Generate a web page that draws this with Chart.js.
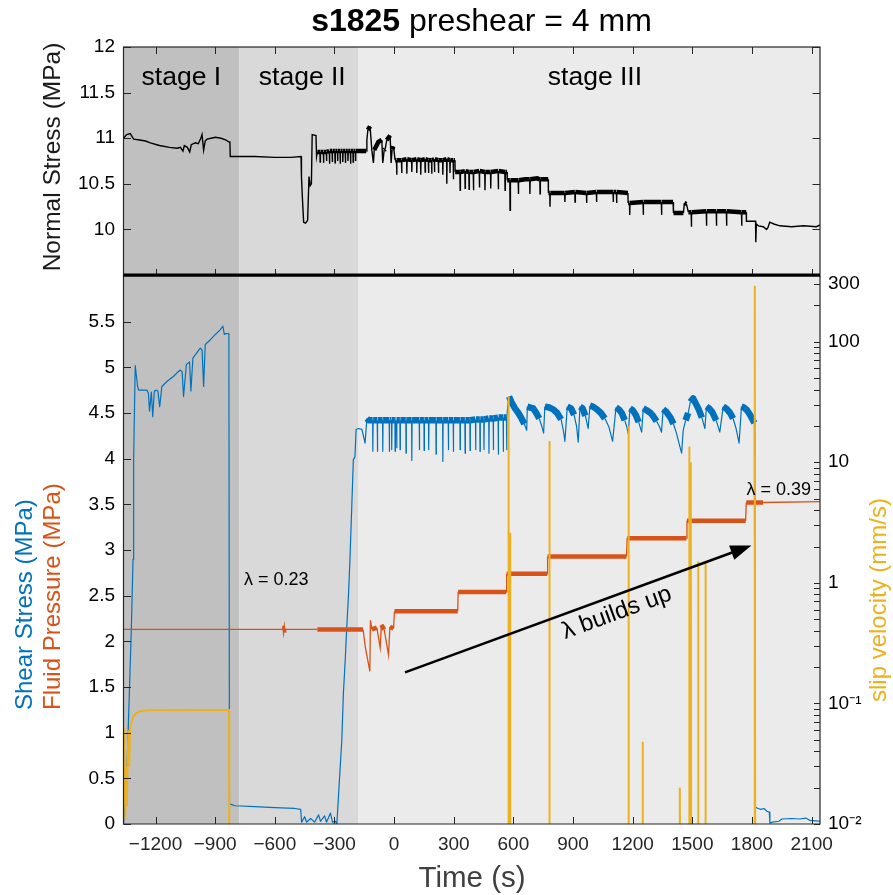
<!DOCTYPE html>
<html>
<head>
<meta charset="utf-8">
<script src="https://cdn.jsdelivr.net/npm/chart.js@4.4.0/dist/chart.umd.min.js"></script>
<style>
  html, body { margin: 0; padding: 0; background: #fff; }
  #wrap { position: relative; width: 893px; height: 895px; }
  canvas { position: absolute; left: 0; top: 0; }
</style>
</head>
<body>
<div id="wrap">
  <canvas id="bottomChart" width="893" height="895"></canvas>
  <canvas id="topChart" width="893" height="895"></canvas>
</div>
<script>
const FONT = "'Liberation Sans', Arial, Helvetica, sans-serif";
Chart.defaults.font.family = FONT;
Chart.defaults.color = '#262626';

// axis ranges / ticks
const T_MIN = -1361, T_MAX = 2142;
const timeTicks = [-1200, -900, -600, -300, 0, 300, 600, 900, 1200, 1500, 1800, 2100];
const normalTicks = [10, 10.5, 11, 11.5, 12];
const stressTicks = [0, 0.5, 1, 1.5, 2, 2.5, 3, 3.5, 4, 4.5, 5, 5.5];
const slipDecades = [0.01, 0.1, 1, 10, 100];
const slipLabelValues = [0.01, 0.1, 1, 10, 100, 300];
const slipLabelText = ['10\u207B\u00B2', '10\u207B\u00B9', '1', '10', '100', '300'];

// stages
const stageNames = ['stage I', 'stage II', 'stage III'];
const stageStarts = [T_MIN, -779, -179];
const stageEnds = [-779, -179, T_MAX];
const stageLabelTimes = [-1070, -462, 1010];

// normal stress (MPa) vs time (s)
const normalStress = [
  [-1361,11.00],[-1345,11.04],[-1327,11.05],[-1310,10.99],[-1280,10.98],[-1250,10.97],[-1226,10.95],[-1180,10.92],
  [-1130,10.90],[-1092,10.89],[-1075,10.90],[-1062,10.86],[-1055,10.92],[-1040,10.90],[-1028,10.85],[-1020,10.93],
  [-1000,10.95],[-985,10.94],[-972,11.00],[-966,11.04],[-958,10.87],[-950,10.97],[-941,10.99],[-920,11.00],
  [-899,11.01],[-870,11.00],[-845,10.98],[-833,10.96],[-826,10.96],[-824,10.80],
  [-700,10.80],[-600,10.79],[-520,10.79],[-468,10.80],
  [-466,10.58],[-462,10.38],[-455,10.08],[-445,10.07],[-435,10.10],[-428,10.58],[-422,10.48],[-416,10.50],
  [-412,11.04],[-393,11.03],[-390,10.80],[-386,10.85],
  [-373,10.85],[-372,10.74],[-370.5,10.85],[-356,10.85],[-355,10.73],[-353.5,10.85],[-341,10.85],[-340,10.75],[-338.5,10.85],
  [-326,10.86],[-325,10.72],[-323.5,10.86],[-312,10.86],[-311,10.74],[-309.5,10.86],[-298,10.86],[-297,10.73],[-295.5,10.86],
  [-285,10.86],[-284,10.75],[-282.5,10.86],[-272,10.86],[-271,10.72],[-269.5,10.86],[-259,10.86],[-258,10.74],[-256.5,10.86],
  [-246,10.86],[-245,10.73],[-243.5,10.86],[-233,10.86],[-232,10.75],[-230.5,10.86],[-220,10.86],[-219,10.72],[-217.5,10.86],
  [-207,10.86],[-206,10.74],[-204.5,10.86],[-195,10.86],[-194,10.75],[-192.5,10.86],
  [-140,10.86],[-137,10.98],[-132,11.09],[-121,11.13],[-112,10.87],[-104,10.73],[-100,10.87],[-79,10.96],
  [-62,10.98],[-57,10.73],[-50,10.87],[-45,10.88],[-37,10.98],[-20,11.03],[-15,10.73],[-10,10.88],[-3,10.91],[5,10.76],
  [12,10.76],[13,10.60],[14.5,10.76],[37,10.76],[38,10.62],[39.5,10.76],[63,10.77],[64,10.61],[65.5,10.77],
  [88,10.76],[89,10.63],[90.5,10.76],[113,10.77],[114,10.62],[115.5,10.77],[133,10.76],[134,10.60],[135.5,10.76],
  [155,10.77],[156,10.63],[157.5,10.77],[172,10.76],[173,10.62],[174.5,10.76],[188,10.76],[189,10.61],[190.5,10.76],
  [202,10.77],[203,10.63],[204.5,10.77],[222,10.76],[223,10.62],[224.5,10.76],[244,10.76],[245,10.60],[246.5,10.76],
  [264,10.77],[265,10.50],[266.5,10.77],[280,10.76],[281,10.62],[282.5,10.76],[297,10.76],[298,10.55],[299.5,10.76],
  [306,10.76],[307,10.63],
  [331,10.63],[332,10.43],[333.5,10.63],[356,10.64],[357,10.45],[358.5,10.64],[376,10.63],[377,10.44],[378.5,10.63],
  [398,10.63],[399,10.43],[400.5,10.63],[428,10.64],[429,10.46],[430.5,10.64],[456,10.63],[457,10.43],[458.5,10.63],
  [485,10.63],[486,10.45],[487.5,10.63],[523,10.64],[524,10.44],[525.5,10.64],[557,10.63],[558,10.43],[559.5,10.63],
  [568,10.63],[569,10.54],[582,10.54],[583,10.21],[585,10.54],[624,10.54],[625,10.39],[626.5,10.54],
  [660,10.55],[682,10.55],[683,10.39],[684.5,10.55],[720,10.56],[733,10.55],[734,10.39],[735.5,10.55],
  [775,10.55],[776,10.40],
  [783,10.40],[784,10.25],[785.5,10.40],[858,10.40],[859,10.30],[860.5,10.40],[909,10.41],[910,10.30],[911.5,10.41],
  [967,10.40],[968,10.29],[969.5,10.40],[1017,10.41],[1018,10.30],[1019.5,10.41],[1101,10.41],[1102,10.30],[1103.5,10.41],
  [1118,10.41],[1119,10.29],[1120.5,10.41],[1176,10.40],[1177,10.29],
  [1184,10.29],[1185,10.16],[1186.5,10.29],[1252,10.30],[1253,10.16],[1254.5,10.30],[1344,10.30],[1345,10.16],[1346.5,10.30],
  [1403,10.30],[1405,10.18],[1455,10.18],[1460,10.29],[1470,10.28],[1480,10.19],
  [1494,10.19],[1495,10.03],[1496.5,10.19],[1570,10.20],[1571,10.04],[1572.5,10.20],[1620,10.20],[1621,10.04],[1622.5,10.20],
  [1671,10.20],[1672,10.04],[1673.5,10.20],[1747,10.19],[1748,10.04],[1749.5,10.19],[1771,10.19],[1772,10.09],
  [1818,10.09],[1819,9.86],[1822,10.06],[1832,10.04],[1857,10.03],[1873,10.00],[1880,10.02],[1889,10.08],
  [1910,10.06],[1940,10.04],[2000,10.03],[2060,10.04],[2124,10.03],[2142,10.05]
];

// shear stress (MPa) vs time (s)
const shearStress = [
  [-1361,0.00],[-1345,0.50],[-1335,1.20],[-1322,2.10],[-1313,2.90],[-1310,4.00],[-1302,5.02],[-1290,4.79],
  [-1285,4.75],[-1243,4.75],[-1236,4.72],[-1230,4.52],[-1221,4.73],[-1214,4.46],[-1206,4.74],[-1196,4.75],
  [-1188,4.74],[-1179,4.57],[-1168,4.79],[-1140,4.85],[-1110,4.90],[-1092,4.94],[-1075,4.97],[-1066,4.95],
  [-1059,4.68],[-1045,5.03],[-1029,5.06],[-1022,4.74],[-1012,5.10],[-975,5.21],[-966,5.19],[-958,4.79],
  [-950,5.25],[-925,5.30],[-899,5.36],[-875,5.41],[-861,5.45],[-854,5.36],[-848,5.37],[-831,5.37],
  [-828,0.22],[-800,0.20],[-700,0.19],[-600,0.18],[-500,0.17],[-470,0.16],[-465,0.02],[-450,0.08],
  [-440,0.02],[-420,0.06],[-400,0.02],[-380,0.10],[-370,0.03],[-350,0.09],[-340,0.02],[-320,0.12],
  [-310,0.02],[-295,0.03],[-288,0.00],
  [-275,0.48],[-263,0.92],[-255,1.43],[-246,1.79],[-238,2.16],[-229,2.53],[-222,2.90],[-213,3.47],
  [-205,3.99],[-197,4.02],[-191,4.32],[-179,4.33],[-162,4.32],[-146,4.17],[-137,4.44],[-128,4.42],
  [-108,4.42],[-107,4.08],[-105.5,4.42],[-85,4.42],[-84,4.08],[-82.5,4.42],[-58,4.42],[-57,4.08],[-55.5,4.42],
  [-25,4.42],[-24,4.08],[-22.5,4.42],[-13,4.42],[-12,4.10],[-10.5,4.42],[4,4.42],[5,4.08],[6.5,4.42],
  [12,4.42],[13,4.12],[14.5,4.42],[29,4.42],[30,4.10],[31.5,4.42],[59,4.42],[60,4.06],[61.5,4.42],
  [88,4.42],[89,3.98],[90.5,4.42],[126,4.42],[127,4.10],[128.5,4.42],[150,4.42],[151,4.09],[152.5,4.42],
  [173,4.42],[174,4.10],[175.5,4.42],[210,4.42],[211,4.05],[212.5,4.42],[244,4.42],[245,3.97],[246.5,4.42],
  [272,4.42],[273,4.10],[274.5,4.42],[297,4.42],[298,4.08],[299.5,4.42],[331,4.42],[332,4.10],[333.5,4.42],
  [356,4.42],[357,4.06],[358.5,4.42],[381,4.42],[382,4.09],[383.5,4.42],[409,4.43],[410,4.10],[411.5,4.43],
  [431,4.43],[432,4.08],[433.5,4.43],[451,4.43],[452,4.10],[453.5,4.43],[476,4.44],[477,4.06],[478.5,4.44],
  [498,4.44],[499,4.10],[500.5,4.44],[523,4.45],[524,4.05],[525.5,4.45],[548,4.45],[549,4.08],[550.5,4.45],
  [565,4.45],[566,4.10],[567.5,4.45],[572,4.58],
  [578,4.68],[590,4.62],[608,4.55],[625,4.50],[641,4.44],[655,4.38],[667,4.31],
  [670,4.57],[685,4.56],[700,4.55],[715,4.50],[730,4.44],[742,4.36],[752,4.28],
  [758,4.57],[780,4.56],[800,4.54],[820,4.50],[840,4.43],[852,4.30],[859,4.19],
  [871,4.57],[890,4.55],[905,4.48],[918,4.35],[926,4.18],
  [935,4.57],[948,4.55],[962,4.47],[976,4.33],
  [985,4.58],[1000,4.57],[1020,4.54],[1040,4.50],[1060,4.44],[1080,4.35],[1099,4.19],
  [1116,4.56],[1130,4.54],[1145,4.50],[1160,4.42],[1170,4.35],[1178,4.27],
  [1186,4.55],[1200,4.53],[1215,4.48],[1230,4.40],[1245,4.29],
  [1253,4.55],[1270,4.53],[1290,4.50],[1305,4.46],[1320,4.41],[1335,4.35],[1345,4.29],
  [1353,4.54],[1370,4.51],[1390,4.45],[1405,4.38],[1420,4.28],[1435,4.15],[1446,4.06],
  [1454,4.31],[1466,4.42],[1479,4.50],[1490,4.62],[1504,4.66],[1518,4.60],[1530,4.55],[1548,4.45],[1563,4.33],
  [1571,4.57],[1585,4.55],[1600,4.51],[1620,4.42],[1638,4.29],
  [1655,4.57],[1670,4.55],[1690,4.50],[1705,4.44],[1720,4.33],[1735,4.17],
  [1747,4.57],[1760,4.56],[1775,4.53],[1790,4.48],[1800,4.44],[1812,4.39],
  [1815,0.19],[1830,0.17],[1845,0.16],[1860,0.17],[1875,0.14],[1887,0.13],[1890,0.01],[1900,0.02],
  [1935,0.03],[1950,0.055],[2000,0.06],[2040,0.055],[2070,0.065],[2090,0.04],[2120,0.035],[2142,0.03]
];

// fluid pressure (MPa) vs time (s)
const fluidPressure = [
  [-1361,2.13],[-562,2.13],[-560,2.17],[-556,2.09],[-552,2.17],[-548,2.10],[-545,2.13],[-386,2.13],
  [-156,2.13],[-145,1.94],[-122,1.67],[-119,2.23],[-112,2.13],[-87,2.15],[-70,1.93],[-64,2.18],
  [-50,2.13],[-28,1.85],[-21,2.16],[-3,2.14],[2,2.33],[320,2.33],[322,2.54],[563,2.54],
  [566,2.74],[770,2.74],[772,2.93],[1169,2.93],[1172,3.13],[1470,3.13],[1473,3.32],[1768,3.32],
  [1771,3.52],[1856,3.52],[2142,3.53]
];

// slip velocity (mm/s) vs time (s); 0.005 = below the axis floor
const slipVelocity = [
  [-1361,0.055],[-1357,0.062],[-1352,0.011],[-1348,0.030],[-1344,0.014],[-1340,0.035],[-1336,0.060],
  [-1332,0.030],[-1328,0.064],[-1320,0.070],[-1313,0.077],[-1302,0.082],[-1276,0.086],[-1243,0.0876],
  [-1000,0.088],[-830,0.088],[-829,0.005],
  [575,0.005],[575,35],[577,0.005],[583,0.005],[583,2.6],[585,0.005],
  [781,0.005],[781,15],[782.5,0.005],
  [1179,0.005],[1179,20],[1180.5,0.005],
  [1250,0.005],[1250,0.048],[1251,0.005],
  [1437,0.005],[1437,0.02],[1438,0.005],
  [1484,0.005],[1484,13.5],[1486,0.005],[1492,0.005],[1492,10],[1494,0.005],
  [1529,0.005],[1529,1.5],[1530.5,0.005],
  [1566,0.005],[1566,1.5],[1567.5,0.005],
  [1814,0.005],[1814,290],[1816,0.005],
  [2142,0.005]
];

// annotations (data units)
const lambdaLabels = ['\u03BB = 0.23', '\u03BB = 0.39'];
const lambdaTimes = [-593, 1935];
const lambdaValues = [2.67, 3.66];
const arrowFrom = [55, 1.66];
const arrowTo = [1797, 3.05];
const buildsUpText = '\u03BB builds up';
const buildsUpAt = [1120, 2.31];

// ---------- helpers ----------
const toXY = arr => arr.map(([x, y]) => ({x, y}));

// noisy plateaus are drawn as a thicker band, steep jumps and deep dips stay thin
function bandWidth(series, from, to, floor, thick, thin) {
  return ctx => {
    const [t, v0] = series[ctx.p0DataIndex];
    const v1 = series[ctx.p1DataIndex][1];
    const dx = Math.abs(ctx.p1.x - ctx.p0.x), dy = Math.abs(ctx.p1.y - ctx.p0.y);
    return (t >= from && t < to && v0 >= floor && v1 >= floor && dy < dx * 3) ? thick : thin;
  };
}

const minusFmt = v => (v < 0 ? '\u2212' + Math.abs(v) : String(v));
const STAGE_FILL = ['#c0c0c0', '#d9d9d9', '#ebebeb'];
const AXIS_COL = '#262626';

function paintStages(chart) {
  const {ctx, chartArea: a, scales: {x}} = chart;
  ctx.save();
  for (let i = 0; i < stageNames.length; i++) {
    const x0 = Math.max(a.left, x.getPixelForValue(stageStarts[i]));
    const x1 = Math.min(a.right, x.getPixelForValue(stageEnds[i]));
    ctx.fillStyle = STAGE_FILL[i];
    ctx.fillRect(x0, a.top, x1 - x0, a.bottom - a.top);
  }
  ctx.restore();
}

function tickLine(ctx, x1, y1, x2, y2) {
  ctx.beginPath(); ctx.moveTo(x1, y1); ctx.lineTo(x2, y2); ctx.stroke();
}

function vText(ctx, text, x, y, color, font, align, rot) {
  ctx.save();
  ctx.translate(x, y);
  ctx.rotate(rot);
  ctx.font = font;
  ctx.fillStyle = color;
  ctx.textAlign = align;
  ctx.textBaseline = 'alphabetic';
  ctx.fillText(text, 0, 0);
  ctx.restore();
}

const noUi = {legend: {display: false}, tooltip: {enabled: false}, title: {display: false}};

// ---------- top panel ----------
const topDecor = {
  id: 'topDecor',
  beforeDatasetsDraw: paintStages,
  afterDraw(chart) {
    const {ctx, chartArea: a, scales: {x, y}} = chart;
    ctx.save();
    ctx.strokeStyle = AXIS_COL;
    ctx.lineWidth = 1;
    timeTicks.forEach(v => {
      const px = Math.round(x.getPixelForValue(v)) + 0.5;
      tickLine(ctx, px, a.bottom, px, a.bottom - 7);
      tickLine(ctx, px, a.top, px, a.top + 7);
    });
    normalTicks.forEach(v => {
      const py = Math.round(y.getPixelForValue(v)) + 0.5;
      tickLine(ctx, a.left, py, a.left + 7.5, py);
      tickLine(ctx, a.right, py, a.right - 7.5, py);
    });
    ctx.lineWidth = 1.2;
    ctx.strokeRect(a.left, a.top, a.right - a.left, a.bottom - a.top);
    ctx.strokeStyle = '#000';
    ctx.lineWidth = 3;
    tickLine(ctx, a.left, a.bottom - 1, a.right, a.bottom - 1);

    // stage labels
    ctx.fillStyle = '#000';
    ctx.font = `26.5px ${FONT}`;
    ctx.textAlign = 'center';
    ctx.textBaseline = 'middle';
    stageNames.forEach((s, i) => {
      ctx.fillText(s, x.getPixelForValue(stageLabelTimes[i]), y.getPixelForValue(11.66));
    });

    // title
    ctx.textBaseline = 'alphabetic';
    ctx.textAlign = 'left';
    ctx.font = `bold 32px ${FONT}`;
    const w1 = ctx.measureText('s1825').width;
    ctx.font = `32px ${FONT}`;
    const w2 = ctx.measureText(' preshear = 4 mm').width;
    const x0 = 481.5 - (w1 + w2) / 2;
    ctx.font = `bold 32px ${FONT}`;
    ctx.fillText('s1825', x0, 31);
    ctx.font = `32px ${FONT}`;
    ctx.fillText(' preshear = 4 mm', x0 + w1, 31);
    ctx.restore();

    vText(ctx, 'Normal Stress (MPa)', 60, 157, '#1a1a1a', `24.5px ${FONT}`, 'center', -Math.PI / 2);
  }
};

new Chart(document.getElementById('topChart'), {
  type: 'line',
  data: {
    datasets: [{
      label: 'Normal Stress',
      data: toXY(normalStress),
      borderColor: '#000',
      borderWidth: 1.4,
      pointRadius: 0,
      tension: 0,
      segment: {borderWidth: bandWidth(normalStress, -387, 1772, 0, 4.5, 1.4)}
    }]
  },
  options: {
    responsive: false,
    animation: false,
    events: [],
    layout: {padding: {top: 47, right: 73, left: 0, bottom: 0}},
    plugins: noUi,
    scales: {
      x: {
        type: 'linear', min: T_MIN, max: T_MAX,
        afterFit: s => { s.height = 895 - 276; },
        grid: {display: false, drawTicks: false},
        border: {display: false},
        ticks: {display: false}
      },
      y: {
        min: 9.49, max: 12,
        afterBuildTicks: s => { s.ticks = normalTicks.map(v => ({value: v})); },
        afterFit: s => { s.width = 123.5; },
        grid: {display: false, drawTicks: false},
        border: {display: false},
        ticks: {font: {size: 19}, color: '#000', padding: 8.5, autoSkip: false, callback: v => String(v)}
      }
    }
  },
  plugins: [topDecor]
});

// ---------- bottom panel ----------
const slipTicks = [];
slipDecades.forEach(d => { for (let m = 1; m <= 9; m++) { if (d * m <= 340) slipTicks.push(+(d * m).toPrecision(3)); } });

const bottomDecor = {
  id: 'bottomDecor',
  beforeDatasetsDraw: paintStages,
  afterDraw(chart) {
    const {ctx, chartArea: a, scales: {x, y, ySlip}} = chart;
    ctx.save();
    ctx.strokeStyle = AXIS_COL;
    ctx.lineWidth = 1;
    timeTicks.forEach(v => {
      const px = Math.round(x.getPixelForValue(v)) + 0.5;
      tickLine(ctx, px, a.bottom, px, a.bottom - 7);
    });
    stressTicks.forEach(v => {
      const py = Math.round(y.getPixelForValue(v)) + 0.5;
      tickLine(ctx, a.left, py, a.left + 7.5, py);
    });
    slipTicks.forEach(v => {
      const py = Math.round(ySlip.getPixelForValue(v)) + 0.5;
      tickLine(ctx, a.right, py, a.right - 6, py);
    });
    ctx.lineWidth = 1.2;
    ctx.beginPath();
    ctx.moveTo(a.left, a.top); ctx.lineTo(a.left, a.bottom); ctx.lineTo(a.right, a.bottom); ctx.lineTo(a.right, a.top);
    ctx.stroke();

    // arrow
    const x1 = x.getPixelForValue(arrowFrom[0]), y1 = y.getPixelForValue(arrowFrom[1]);
    const x2 = x.getPixelForValue(arrowTo[0]), y2 = y.getPixelForValue(arrowTo[1]);
    const ang = Math.atan2(y2 - y1, x2 - x1);
    const headL = 21, headW = 7.5;
    ctx.strokeStyle = '#000';
    ctx.fillStyle = '#000';
    ctx.lineWidth = 2.5;
    tickLine(ctx, x1, y1, x2 - Math.cos(ang) * headL * 0.8, y2 - Math.sin(ang) * headL * 0.8);
    ctx.beginPath();
    ctx.moveTo(x2, y2);
    ctx.lineTo(x2 - Math.cos(ang) * headL - Math.sin(ang) * headW, y2 - Math.sin(ang) * headL + Math.cos(ang) * headW);
    ctx.lineTo(x2 - Math.cos(ang) * headL + Math.sin(ang) * headW, y2 - Math.sin(ang) * headL - Math.cos(ang) * headW);
    ctx.closePath();
    ctx.fill();

    // texts in data space
    ctx.save();
    ctx.translate(x.getPixelForValue(buildsUpAt[0]), y.getPixelForValue(buildsUpAt[1]));
    ctx.rotate(ang);
    ctx.font = `24px ${FONT}`;
    ctx.textAlign = 'center';
    ctx.textBaseline = 'middle';
    ctx.fillText(buildsUpText, 0, 0);
    ctx.restore();

    ctx.font = `18px ${FONT}`;
    ctx.textAlign = 'center';
    ctx.textBaseline = 'middle';
    lambdaLabels.forEach((s, i) => {
      ctx.fillText(s, x.getPixelForValue(lambdaTimes[i]), y.getPixelForValue(lambdaValues[i]));
    });
    ctx.restore();

    vText(ctx, 'Shear Stress (MPa)', 31.5, 710, '#0072BD', `24px ${FONT}`, 'left', -Math.PI / 2);
    vText(ctx, 'Fluid Pressure (MPa)', 60, 710, '#D95319', `24px ${FONT}`, 'left', -Math.PI / 2);
    vText(ctx, 'slip velocity (mm/s)', 886, 600, '#EDB120', `24px ${FONT}`, 'center', -Math.PI / 2);
    ctx.save();
    ctx.font = `29.5px ${FONT}`;
    ctx.fillStyle = '#404040';
    ctx.textAlign = 'center';
    ctx.textBaseline = 'alphabetic';
    ctx.fillText('Time (s)', 472, 887);
    ctx.restore();
  }
};

new Chart(document.getElementById('bottomChart'), {
  type: 'line',
  data: {
    datasets: [
      {
        label: 'slip velocity',
        data: toXY(slipVelocity),
        yAxisID: 'ySlip',
        borderColor: '#EDB120',
        borderWidth: 2,
        pointRadius: 0,
        tension: 0
      },
      {
        label: 'Fluid Pressure',
        data: toXY(fluidPressure),
        yAxisID: 'y',
        borderColor: '#D95319',
        borderWidth: 1.3,
        pointRadius: 0,
        tension: 0,
        segment: {borderWidth: bandWidth(fluidPressure, -387, 1850, 0, 4.5, 1.3)}
      },
      {
        label: 'Shear Stress',
        data: toXY(shearStress),
        yAxisID: 'y',
        borderColor: '#0072BD',
        borderWidth: 1.2,
        borderJoinStyle: 'round',
        pointRadius: 0,
        tension: 0,
        segment: {borderWidth: bandWidth(shearStress, -140, 1812, 4.36, 6.5, 1.2)}
      }
    ]
  },
  options: {
    responsive: false,
    animation: false,
    events: [],
    layout: {padding: {top: 276, right: 0, left: 0, bottom: 0}},
    plugins: noUi,
    scales: {
      x: {
        type: 'linear', min: T_MIN, max: T_MAX,
        afterBuildTicks: s => { s.ticks = timeTicks.map(v => ({value: v})); },
        afterFit: s => { s.height = 895 - 824; },
        grid: {display: false, drawTicks: false},
        border: {display: false},
        ticks: {font: {size: 19}, color: AXIS_COL, padding: 9, maxRotation: 0, autoSkip: false, callback: minusFmt}
      },
      y: {
        position: 'left', min: 0, max: 6,
        afterBuildTicks: s => { s.ticks = stressTicks.map(v => ({value: v})); },
        afterFit: s => { s.width = 123.5; },
        grid: {display: false, drawTicks: false},
        border: {display: false},
        ticks: {font: {size: 19}, color: '#000', padding: 8.5, autoSkip: false, callback: v => String(v)}
      },
      ySlip: {
        type: 'logarithmic', position: 'right', min: 0.01, max: 350,
        afterBuildTicks: s => { s.ticks = slipLabelValues.map(v => ({value: v})); },
        afterFit: s => { s.width = 893 - 820; },
        grid: {display: false, drawTicks: false},
        border: {display: false},
        ticks: {
          font: {size: 19}, color: '#000', padding: 8, autoSkip: false,
          callback: v => {
            const i = slipLabelValues.findIndex(s => Math.abs(s - v) < s * 1e-6);
            return i >= 0 ? slipLabelText[i] : '';
          }
        }
      }
    }
  },
  plugins: [bottomDecor]
});
</script>
</body>
</html>
